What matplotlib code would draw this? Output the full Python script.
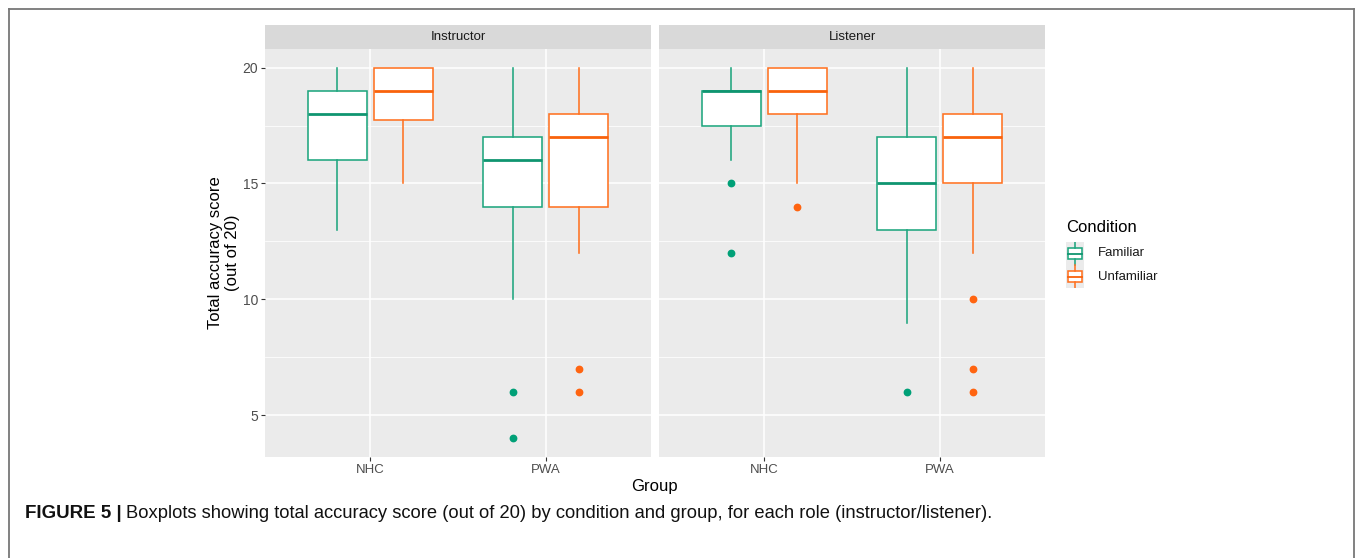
import matplotlib
matplotlib.use("Agg")
import matplotlib.pyplot as plt
from matplotlib.patches import Rectangle
from matplotlib.lines import Line2D

# ---------------- data ----------------
roles = ["Instructor", "Listener"]
groups = ["NHC", "PWA"]
conditions = ["Familiar", "Unfamiliar"]

# stats per role -> group -> condition: (whislo, q1, med, q3, whishi)
instr_nhc_fam = (13, 16, 18, 19, 20)
instr_nhc_unf = (15, 17.75, 19, 20, 20)
instr_pwa_fam = (10, 14, 16, 17, 20)
instr_pwa_unf = (12, 14, 17, 18, 20)
list_nhc_fam = (16, 17.5, 19, 19, 20)
list_nhc_unf = (15, 18, 19, 20, 20)
list_pwa_fam = (9, 13, 15, 17, 20)
list_pwa_unf = (12, 15, 17, 18, 20)

instr_nhc_fam_out = []
instr_nhc_unf_out = []
instr_pwa_fam_out = [6, 4]
instr_pwa_unf_out = [7, 6]
list_nhc_fam_out = [15, 12]
list_nhc_unf_out = [14]
list_pwa_fam_out = [6]
list_pwa_unf_out = [10, 7, 6]

data = {
    "Instructor": {
        "NHC": [(instr_nhc_fam, instr_nhc_fam_out), (instr_nhc_unf, instr_nhc_unf_out)],
        "PWA": [(instr_pwa_fam, instr_pwa_fam_out), (instr_pwa_unf, instr_pwa_unf_out)],
    },
    "Listener": {
        "NHC": [(list_nhc_fam, list_nhc_fam_out), (list_nhc_unf, list_nhc_unf_out)],
        "PWA": [(list_pwa_fam, list_pwa_fam_out), (list_pwa_unf, list_pwa_unf_out)],
    },
}

y_ticks = [5, 10, 15, 20]
y_minor = [7.5, 12.5, 17.5]

# ---------------- style ----------------
W, H = 1355, 558
DPI = 100
colors = ["#1FA67F", "#FF7222"]
med_colors = ["#0F9570", "#F9620C"]
pt_colors = ["#00A077", "#FF6410"]
panel_bg = "#EBEBEB"
strip_bg = "#D9D9D9"
tick_col = "#4D4D4D"
font = "Liberation Sans"

fig = plt.figure(figsize=(W / DPI, H / DPI), dpi=DPI)
fig.patch.set_facecolor("white")

def fx(px):
    return px / W

def fy(py):
    return 1 - py / H

# outer frame (top, left, right)
fig.add_artist(Line2D([fx(9), fx(9)], [fy(558), fy(8.5)], color="#777777", lw=1.3))
fig.add_artist(Line2D([fx(9), fx(1353.5)], [fy(8.5), fy(8.5)], color="#777777", lw=1.3))
fig.add_artist(Line2D([fx(1353.5), fx(1353.5)], [fy(8.5), fy(558)], color="#777777", lw=1.3))

panel_lefts = [265, 659]
panel_w = 386
panel_top, panel_bot = 49, 457
strip_top = 25

dodge = 0.1875
bw = 0.3375

for pi, role in enumerate(roles):
    L = panel_lefts[pi]
    ax = fig.add_axes([fx(L), fy(panel_bot), fx(panel_w), (panel_bot - panel_top) / H])
    ax.set_facecolor(panel_bg)
    ax.set_xlim(0.4, 2.6)
    ax.set_ylim(3.2, 20.8)
    for s in ax.spines.values():
        s.set_visible(False)
    ax.set_yticks(y_ticks)
    ax.set_yticks(y_minor, minor=True)
    ax.set_xticks([1, 2])
    ax.set_xticklabels(groups)
    ax.grid(which="major", color="white", lw=1.1, zorder=0)
    ax.grid(which="minor", axis="y", color="white", lw=0.55, zorder=0)
    ax.set_axisbelow(True)
    ax.tick_params(which="major", length=3, width=0.8, color="#333333",
                   labelcolor=tick_col, pad=2)
    ax.tick_params(axis="y", labelsize=10)
    ax.tick_params(axis="x", labelsize=9.5)
    ax.tick_params(which="minor", length=0)
    for lab in ax.get_xticklabels() + ax.get_yticklabels():
        lab.set_fontfamily(font)
    if pi == 1:
        ax.tick_params(axis="y", which="both", left=False, labelleft=False)

    for gi, g in enumerate(groups):
        for ci in range(2):
            (wlo, q1, med, q3, whi), outs = data[role][g][ci]
            stats = [{"whislo": wlo, "q1": q1, "med": med, "q3": q3,
                      "whishi": whi, "fliers": outs}]
            pos = gi + 1 + (-dodge if ci == 0 else dodge)
            ax.bxp(stats, positions=[pos], widths=bw, patch_artist=True,
                   showcaps=False,
                   boxprops=dict(facecolor="white", edgecolor=colors[ci], lw=1.15),
                   whiskerprops=dict(color=colors[ci], lw=1.15),
                   medianprops=dict(color=med_colors[ci], lw=2.0, solid_capstyle="butt"),
                   flierprops=dict(marker="o", markersize=4.6, markerfacecolor=pt_colors[ci],
                                   markeredgecolor=pt_colors[ci]),
                   manage_ticks=False, zorder=3)

    # strip
    sax = fig.add_axes([fx(L), fy(panel_top), fx(panel_w), (panel_top - strip_top) / H])
    sax.set_facecolor(strip_bg)
    sax.set_xticks([]); sax.set_yticks([])
    for s in sax.spines.values():
        s.set_visible(False)
    sax.text(0.5, 0.5, role, ha="center", va="center", fontsize=9.5,
             color="#1A1A1A", family=font, transform=sax.transAxes)

# axis titles
fig.text(fx(654), fy(487), "Group", ha="center", va="center", fontsize=12,
         family=font, color="black")
fig.text(fx(224), fy(253), "Total accuracy score\n(out of 20)", ha="center", va="center",
         rotation=90, fontsize=12, family=font, color="black", linespacing=1.1)

# legend
fig.text(fx(1066), fy(227), "Condition", ha="left", va="center", fontsize=12,
         family=font, color="black")
lax = fig.add_axes([fx(1066), fy(288), fx(18), 46 / H])
lax.set_xlim(0, 1); lax.set_ylim(0, 2)
lax.axis("off")
for ci, cond in enumerate(conditions):
    y0 = 1 - ci  # top key for Familiar
    lax.add_patch(Rectangle((0, y0), 1, 1, facecolor=panel_bg, edgecolor="none"))
    lax.add_patch(Rectangle((0.13, y0 + 0.26), 0.74, 0.48, facecolor="white",
                            edgecolor=colors[ci], lw=1.15))
    lax.plot([0.13, 0.87], [y0 + 0.5, y0 + 0.5], color=med_colors[ci], lw=1.3)
    lax.plot([0.5, 0.5], [y0 + 0.02, y0 + 0.26], color=colors[ci], lw=1.15)
    lax.plot([0.5, 0.5], [y0 + 0.74, y0 + 0.98], color=colors[ci], lw=1.15)
    fig.text(fx(1098), fy(253 + 24 * ci), cond, ha="left", va="center", fontsize=9.5,
             family=font, color="#1A1A1A")

# caption
t1 = fig.text(fx(25), fy(514), "FIGURE 5 |", ha="left", va="center", fontsize=13.5,
              family=font, weight="bold", color="#111111")
fig.canvas.draw()
bb = t1.get_window_extent()
fig.text((bb.x1 + 4) / W, fy(514),
         "Boxplots showing total accuracy score (out of 20) by condition and group, for each role (instructor/listener).",
         ha="left", va="center", fontsize=13.25, family=font, color="#111111")

fig.savefig("out.png", dpi=DPI)
